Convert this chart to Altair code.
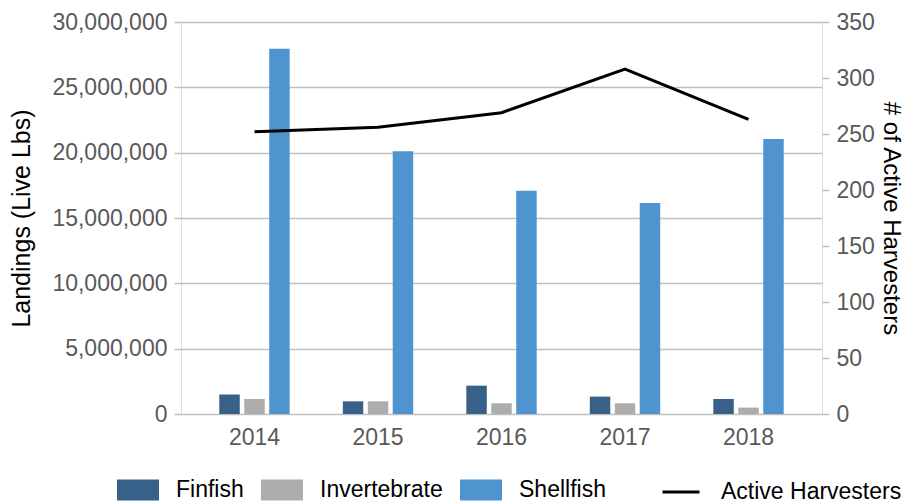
import altair as alt
import pandas as pd

# ---- data ----
years = ["2014", "2015", "2016", "2017", "2018"]
finfish = [1490000, 970000, 2170000, 1330000, 1150000]
invertebrate = [1150000, 970000, 820000, 820000, 490000]
shellfish = [27960000, 20100000, 17090000, 16140000, 21040000]
harvesters = [252, 256, 269, 308, 263]

types = ["Finfish", "Invertebrate", "Shellfish"]
type_colors = ["#376189", "#adadad", "#4f94cf"]
line_name = "Active Harvesters"

left_ticks = [0, 5000000, 10000000, 15000000, 20000000, 25000000, 30000000]
right_ticks = [0, 50, 100, 150, 200, 250, 300, 350]

rows = []
for i, yr in enumerate(years):
    for t, vals in zip(types, [finfish, invertebrate, shellfish]):
        rows.append({"year": yr, "type": t, "value": vals[i]})
bars_df = pd.DataFrame(rows)
line_df = pd.DataFrame({"year": years, "harvesters": harvesters,
                        "series": [line_name] * len(years)})

FONT = "Liberation Sans"
LABEL_GRAY = "#595959"
GRID = "#bfbfbf"

x_enc = alt.X(
    "year:N", sort=years, title=None,
    scale=alt.Scale(paddingInner=0.43, paddingOuter=0.31),
    axis=alt.Axis(labelAngle=0, ticks=False, domain=False, grid=False,
                  labelPadding=12, labelFontSize=23, labelColor=LABEL_GRAY,
                  labelFont=FONT),
)

bars = alt.Chart(bars_df).mark_bar().encode(
    x=x_enc,
    xOffset=alt.XOffset("type:N", sort=types,
                        scale=alt.Scale(paddingInner=0.18, paddingOuter=0)),
    y=alt.Y(
        "value:Q",
        scale=alt.Scale(domain=[0, 30000000], nice=False),
        axis=alt.Axis(values=left_ticks, format=",d", title="Landings (Live Lbs)",
                      domain=False, grid=True, gridColor=GRID, gridWidth=1.5,
                      tickColor=GRID, tickSize=7, tickWidth=1.5,
                      labelPadding=7, labelFontSize=23, labelColor=LABEL_GRAY,
                      labelFont=FONT, titleFont=FONT, titleFontSize=25,
                      titleFontWeight="normal", titleColor="black",
                      titlePadding=17),
    ),
    color=alt.Color(
        "type:N", sort=types,
        scale=alt.Scale(domain=types, range=type_colors),
        legend=alt.Legend(orient="none", legendX=-64, legendY=447,
                          direction="horizontal", title=None,
                          symbolType="M-1,-0.5L1,-0.5L1,0.5L-1,0.5Z",
                          symbolSize=1764, symbolStrokeWidth=0,
                          symbolOpacity=1, labelLimit=500,
                          labelFontSize=23, labelFont=FONT, labelColor="black",
                          labelOffset=17, columnPadding=17, padding=0),
    ),
)

line = alt.Chart(line_df).mark_line(strokeWidth=3, color="black").encode(
    x=alt.X("year:N", sort=years, title=None),
    y=alt.Y(
        "harvesters:Q",
        scale=alt.Scale(domain=[0, 350], nice=False),
        axis=alt.Axis(orient="right", values=right_ticks,
                      title="# of Active Harvesters", titleAngle=90,
                      domain=False, grid=False,
                      tickColor=GRID, tickSize=7, tickWidth=1.5,
                      labelPadding=7, labelFontSize=23, labelColor=LABEL_GRAY,
                      labelFont=FONT, titleFont=FONT, titleFontSize=24,
                      titleFontWeight="normal", titleColor="black",
                      titlePadding=4),
    ),
    stroke=alt.Stroke(
        "series:N",
        scale=alt.Scale(domain=[line_name], range=["black"]),
        legend=alt.Legend(orient="none", legendX=480, legendY=450,
                          direction="horizontal", title=None,
                          symbolType="stroke", symbolSize=1369,
                          symbolStrokeWidth=3, labelLimit=500,
                          labelFontSize=23, labelFont=FONT, labelColor="black",
                          labelOffset=20, padding=0),
    ),
)

chart = (
    alt.layer(bars, line)
    .resolve_scale(y="independent")
    .properties(width=641, height=392,
                padding={"left": 1, "top": 3, "right": 3, "bottom": 0})
    .configure_view(stroke=None)
    .configure(font=FONT)
)

chart.save("out.html", embed_options={"renderer": "svg", "actions": False})
